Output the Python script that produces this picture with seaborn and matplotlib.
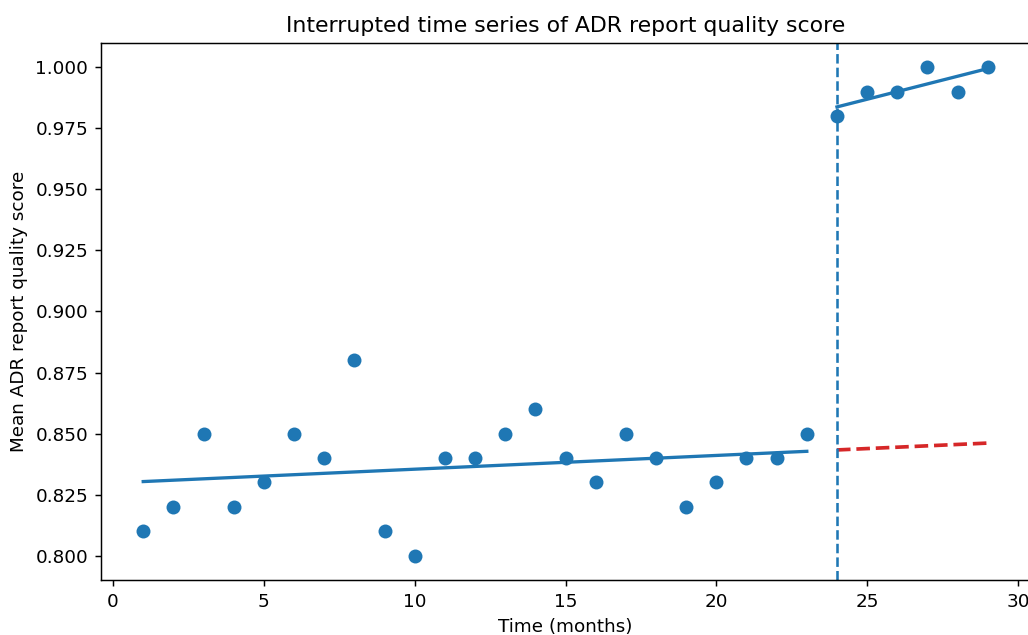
import numpy as np
import pandas as pd
import matplotlib
matplotlib.use("Agg")
import matplotlib.pyplot as plt
import seaborn as sns

# monthly mean ADR report quality score, intervention at month 24
months = list(range(1, 30))
scores = [0.81, 0.82, 0.85, 0.82, 0.83, 0.85, 0.84, 0.88, 0.81, 0.80,
          0.84, 0.84, 0.85, 0.86, 0.84, 0.83, 0.85, 0.84, 0.82, 0.83,
          0.84, 0.84, 0.85, 0.98, 0.99, 0.99, 1.00, 0.99, 1.00]
intervention = 24

df = pd.DataFrame({"time": months, "score": scores})
pre = df[df["time"] < intervention]
post = df[df["time"] >= intervention]

# segmented fits
b_pre = np.polyfit(pre["time"], pre["score"], 1)
b_post = np.polyfit(post["time"], post["score"], 1)
pre_fit = pd.DataFrame({"time": pre["time"], "fit": np.polyval(b_pre, pre["time"])})
post_fit = pd.DataFrame({"time": post["time"], "fit": np.polyval(b_post, post["time"])})
cf_fit = pd.DataFrame({"time": post["time"], "fit": np.polyval(b_pre, post["time"])})

dpi = 132
fig = plt.figure(figsize=(1028 / dpi, 635 / dpi), dpi=dpi)
ax = fig.add_axes([101 / 1028, 1 - 580 / 635, 929 / 1028, 537 / 635])

sns.scatterplot(data=df, x="time", y="score", ax=ax, color="tab:blue",
                s=58, linewidth=0, zorder=3)
sns.lineplot(data=pre_fit, x="time", y="fit", ax=ax, color="tab:blue", linewidth=1.8)
sns.lineplot(data=post_fit, x="time", y="fit", ax=ax, color="tab:blue", linewidth=1.8)
sns.lineplot(data=cf_fit, x="time", y="fit", ax=ax, color="tab:red",
             linewidth=2.0, linestyle="--")
ax.axvline(intervention, color="tab:blue", linestyle="--", linewidth=1.4)

ax.set_xlim(-0.4, 30.4)
ax.set_ylim(0.79, 1.01)
ax.set_xticks([0, 5, 10, 15, 20, 25, 30])
ax.set_yticks(np.arange(0.800, 1.0001, 0.025))
ax.yaxis.set_major_formatter(matplotlib.ticker.FormatStrFormatter("%.3f"))

ax.set_title("Interrupted time series of ADR report quality score", fontsize=12)
ax.set_xlabel("Time (months)")
ax.set_ylabel("Mean ADR report quality score")

fig.savefig("out.png", dpi=dpi)
